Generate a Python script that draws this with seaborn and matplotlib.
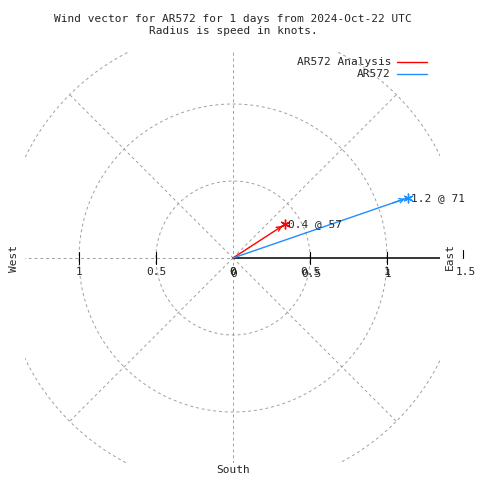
import numpy as np
import pandas as pd
import matplotlib
matplotlib.use("Agg")
import matplotlib.pyplot as plt
import seaborn as sns

# ---- data ----
series = ["AR572 Analysis", "AR572"]
speeds = [0.4, 1.2]          # knots
directions = [57, 71]        # degrees (clockwise from north)
colors = ["#ff0000", "#1e8fff"]
rings = [0.5, 1.0, 1.5]
left_ticks = [1, 0.5, 0]
right_ticks = [0, 0.5, 1]
title = "Wind vector for AR572 for 1 days from 2024-Oct-22 UTC\nRadius is speed in knots."

sns.set_style("white")
plt.rcParams['font.family'] = ['DejaVu Sans Mono']

W = H = 480
cx, cy, s = 233, 258, 154.0
x0, x1, y0, y1 = 25, 440, 52, 463   # clip box (pixels)
fig = plt.figure(figsize=(4.8, 4.8), dpi=100)
ax = fig.add_axes([x0 / W, (H - y1) / H, (x1 - x0) / W, (y1 - y0) / H])
ax.set_xlim((x0 - cx) / s, (x1 - cx) / s)
ax.set_ylim((cy - y1) / s, (cy - y0) / s)
ax.axis('off')

def px(x, y):
    return (x - cx) / s, (cy - y) / s

grid = dict(color='#a0a0a0', lw=0.7, ls=(0, (3, 3)))
th = np.linspace(0, 2 * np.pi, 400)
for r in rings:
    ax.plot(r * np.cos(th), r * np.sin(th), **grid)
R = 1.5
for a in [45, 135, 225, 315]:
    t = np.deg2rad(a)
    ax.plot([0, R * np.cos(t)], [0, R * np.sin(t)], **grid)
ax.plot([0, 0], [-3, 3], **grid)
ax.plot([-3, 0], [0, 0], **grid)

# east axis solid
ax.plot([0, 3], [0, 0], color='black', lw=1.1)
tk = 6 / s
for v in [0.5, 1.0]:
    ax.plot([v, v], [-tk, tk], color='black', lw=0.8)
    ax.plot([-v, -v], [-tk, tk], color='black', lw=0.8)
ax.plot([px(463, 0)[0]] * 2, [px(0, 250)[1], px(0, 258)[1]], color='black', lw=0.8, clip_on=False)

fs = 8
ly = px(0, 272)[1]
for v in left_ticks:
    ax.text(-v, ly, f"{v:g}", ha='center', va='center', fontsize=fs)
for v in right_ticks:
    ax.text(v, ly, f"{v:g}", ha='center', va='center', fontsize=fs)
    ax.text(v + 1 / s, ly - 2 / s, f"{v:g}", ha='center', va='center', fontsize=fs)
ax.text(*px(466, 272), "1.5", ha='center', va='center', fontsize=fs)
ax.text(*px(450, 256), "East", rotation=90, ha='center', va='center', fontsize=fs)
ax.text(*px(14, 258), "West", rotation=90, ha='center', va='center', fontsize=fs)
ax.text(*px(233, 470), "South", ha='center', va='center', fontsize=fs)

# vectors
rad = np.deg2rad(directions)
xs = np.array(speeds) * np.sin(rad)
ys = np.array(speeds) * np.cos(rad)
rows = []
for name, x, y in zip(series, xs, ys):
    rows.append(dict(series=name, x=0.0, y=0.0))
    rows.append(dict(series=name, x=x, y=y))
df = pd.DataFrame(rows)
sns.lineplot(data=df, x='x', y='y', hue='series', palette=dict(zip(series, colors)),
             sort=False, estimator=None, units='series', legend=False, ax=ax, lw=1)
for name, x, y, c, sp, d in zip(series, xs, ys, colors, speeds, directions):
    ax.annotate("", xy=(x, y), xytext=(x * 0.9, y * 0.9),
                arrowprops=dict(arrowstyle='->', color=c, lw=1, mutation_scale=8))
    ax.plot([x], [y], marker=(6, 2, 0), color=c, ms=7, mew=1)
    ax.text(x + 3 / s, y, f"{sp:g} @ {d:g}", ha='left', va='center', fontsize=fs)

ax.text(*px(233, 25), title, ha='center', va='center', fontsize=fs, linespacing=1.35)

# legend
for i, (name, c) in enumerate(zip(series, colors)):
    yy = px(0, 62 + 12 * i)[1]
    ax.text(px(391, 0)[0], yy, name, ha='right', va='center', fontsize=fs)
    ax.plot([px(397, 0)[0], px(427, 0)[0]], [yy, yy], color=c, lw=1)

fig.savefig("out.png", dpi=100)
